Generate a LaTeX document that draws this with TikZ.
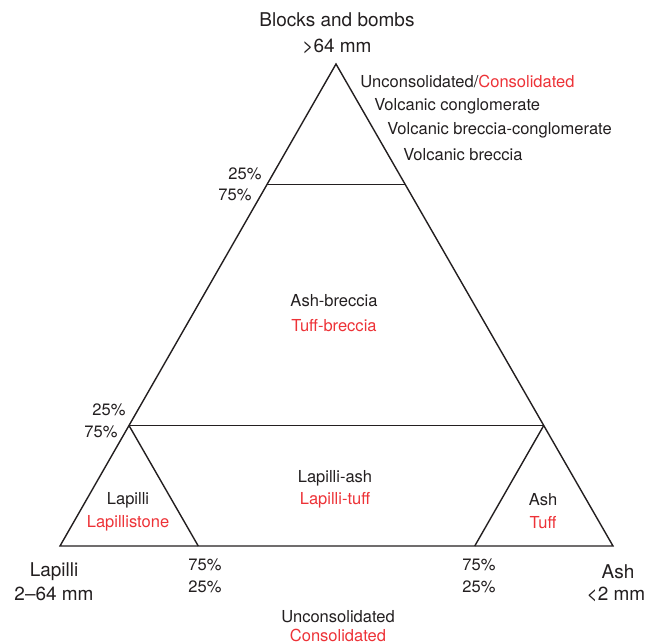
\documentclass[tikz,border=0pt]{standalone}
\usepackage{fontspec}
\setmainfont{TeX Gyre Heros}
\usetikzlibrary{calc}
\definecolor{txtgray}{RGB}{35,31,32}
\definecolor{conred}{RGB}{237,50,55}
\tikzset{
  lbl/.style={text=txtgray,font=\fontsize{9.4}{11}\selectfont,inner sep=0pt},
  biglbl/.style={text=txtgray,font=\fontsize{10.8}{13}\selectfont,inner sep=0pt},
  red/.style={lbl,text=conred},
  edge/.style={draw=txtgray,line width=0.8pt,line join=miter}
}
\begin{document}
\begin{tikzpicture}[x=0.02cm,y=-0.02cm]
  \useasboundingbox (0,0) rectangle (647,643);
  % corners of the ternary plot
  \coordinate (T) at (336,64);
  \coordinate (L) at (60,546);
  \coordinate (R) at (613,546);
  \coordinate (tl) at ($(L)!0.75!(T)$);
  \coordinate (tr) at ($(R)!0.75!(T)$);
  \coordinate (ml) at ($(L)!0.25!(T)$);
  \coordinate (mr) at ($(R)!0.25!(T)$);
  \coordinate (bl) at ($(L)!0.25!(R)$);
  \coordinate (br) at ($(R)!0.25!(L)$);
  \draw[edge](T)--(L)--(R)--cycle;
  \draw[edge](tl)--(tr);
  \draw[edge](ml)--(mr);
  \draw[edge](ml)--(bl);
  \draw[edge](mr)--(br);
  % end members
  \node[biglbl](blk)at(337,20){Blocks and bombs};
  \node[biglbl](blkmm)at(337,46){>64 mm};
  \node[biglbl](lap)at(54,572){Lapilli};
  \node[biglbl](lapmm)at(54,594){2–64 mm};
  \node[biglbl](ash)at(618,572){Ash};
  \node[biglbl](ashmm)at(616,594){<2 mm};
  % top field names
  \node[lbl,anchor=west](uc)at(360,81){Unconsolidated/\textcolor{conred}{Consolidated}};
  \node[lbl,anchor=west](vc)at(374,106){Volcanic conglomerate};
  \node[lbl,anchor=west](vbc)at(387,130){Volcanic breccia-conglomerate};
  \node[lbl,anchor=west](vb)at(403,155){Volcanic breccia};
  % fields
  \node[lbl](ab)at(334,301){Ash-breccia};
  \node[red](tb)at(334,326){Tuff-breccia};
  \node[lbl](la)at(335,478){Lapilli-ash};
  \node[red](lt)at(335,500){Lapilli-tuff};
  \node[lbl](lp)at(128,500){Lapilli};
  \node[red](lps)at(128,523){Lapillistone};
  \node[lbl](as)at(543,500){Ash};
  \node[red](tf)at(543,523){Tuff};
  % percentages
  \node[lbl](p1)at(245,174){25\%};
  \node[lbl](p2)at(235,195){75\%};
  \node[lbl](p3)at(109,410){25\%};
  \node[lbl](p4)at(101,432){75\%};
  \node[lbl](p5)at(205,565){75\%};
  \node[lbl](p6)at(205,587){25\%};
  \node[lbl](p7)at(479,565){75\%};
  \node[lbl](p8)at(479,587){25\%};
  % legend
  \node[lbl](unc)at(338,617){Unconsolidated};
  \node[red](con)at(338,635){Consolidated};
\end{tikzpicture}
\end{document}
